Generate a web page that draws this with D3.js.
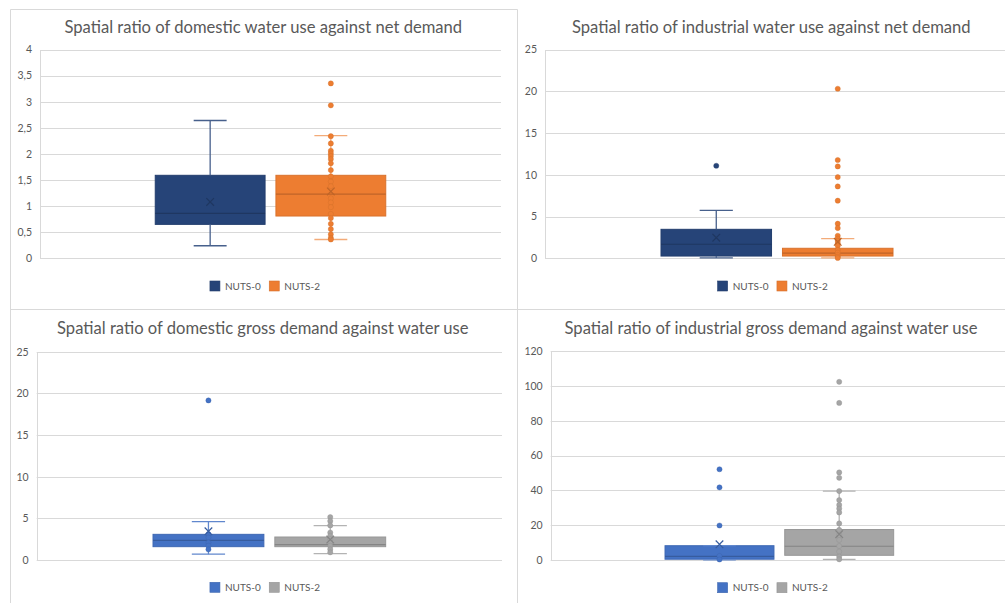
<!DOCTYPE html>
<html>
<head>
<meta charset="utf-8">
<script src="https://cdn.jsdelivr.net/npm/d3@7"></script>
<style>
  html, body { margin: 0; padding: 0; background: #fff; overflow: hidden; }
  text { font-family: Lato, "Open Sans", sans-serif; }
</style>
</head>
<body>
<svg id="chart" width="1005" height="603"></svg>
<script>
// ---- data ----------------------------------------------------------------
const seriesNames = ["NUTS-0", "NUTS-2"];

const chartTitles = [
  "Spatial ratio of domestic water use against net demand",
  "Spatial ratio of industrial water use against net demand",
  "Spatial ratio of domestic gross demand against water use",
  "Spatial ratio of industrial gross demand against water use"
];

// box statistics: [lower whisker, Q1, median, Q3, upper whisker, mean]
const domNetBox0 = [0.24, 0.65, 0.86, 1.59, 2.64, 1.08];
const domNetBox2 = [0.36, 0.81, 1.23, 1.59, 2.35, 1.28];
const indNetBox0 = [0.05, 0.27, 1.68, 3.47, 5.74, 2.47];
const indNetBox2 = [0.04, 0.27, 0.61, 1.20, 2.35, 1.98];
const domGrossBox0 = [0.70, 1.60, 2.36, 3.08, 4.60, 3.45];
const domGrossBox2 = [0.76, 1.60, 1.85, 2.76, 4.12, 2.45];
const indGrossBox0 = [0.05, 0.45, 2.10, 8.20, 8.20, 9.00];
const indGrossBox2 = [0.40, 2.70, 7.90, 17.50, 39.60, 14.80];

// individual regions drawn as dots (inner points and outliers)
const domNetPts0 = [];
const domNetPts2 = [3.35, 2.93, 2.34, 2.20, 2.06, 2.01, 1.96, 1.90, 1.82, 1.69,
                    1.57, 1.47, 1.38, 1.15, 1.07, 0.98, 0.85, 0.77, 0.66, 0.56,
                    0.46, 0.39, 0.36];
const indNetPts0 = [11.08];
const indNetPts2 = [20.30, 11.77, 11.00, 9.72, 8.60, 6.90, 4.14, 3.62, 2.70, 2.35,
                    2.10, 1.80, 1.50, 1.00, 0.67, 0.40, 0.19, 0.04];
const domGrossPts0 = [19.15, 3.10, 2.70, 2.10, 1.72, 1.28];
const domGrossPts2 = [5.15, 4.68, 4.15, 3.30, 2.90, 2.50, 2.10, 1.70, 1.30, 0.92];
const indGrossPts0 = [52.10, 41.70, 19.80, 2.30, 0.30];
const indGrossPts2 = [102.30, 90.20, 50.30, 47.20, 39.60, 34.40, 31.60, 29.50, 27.30,
                      21.00, 17.30, 14.40, 11.50, 8.00, 4.80, 1.90, 0.40];

// y-axis tick labels
const ticksDomNet = [0, 0.5, 1, 1.5, 2, 2.5, 3, 3.5, 4];
const ticksIndNet = [0, 5, 10, 15, 20, 25];
const ticksDomGross = [0, 5, 10, 15, 20, 25];
const ticksIndGross = [0, 20, 40, 60, 80, 100, 120];

// series colours
const paletteNet = ["#264478", "#ED7D31"];
const paletteGross = ["#4472C4", "#A5A5A5"];

// ---- layout --------------------------------------------------------------
const panels = [
  { title: chartTitles[0], boxes: [domNetBox0, domNetBox2], points: [domNetPts0, domNetPts2],
    ticks: ticksDomNet, colors: paletteNet,
    plot: { x0: 40, x1: 501, y0: 49.5, y1: 258.3 },
    titlePos: { x: 263.3, y: 33.3, w: 398 }, legendPos: { x: 265, y: 286 } },
  { title: chartTitles[1], boxes: [indNetBox0, indNetBox2], points: [indNetPts0, indNetPts2],
    ticks: ticksIndNet, colors: paletteNet,
    plot: { x0: 545, x1: 1009, y0: 49.5, y1: 258.3 },
    titlePos: { x: 771.3, y: 32.5, w: 399 }, legendPos: { x: 772.7, y: 286 } },
  { title: chartTitles[2], boxes: [domGrossBox0, domGrossBox2], points: [domGrossPts0, domGrossPts2],
    ticks: ticksDomGross, colors: paletteGross,
    plot: { x0: 36.7, x1: 502, y0: 351.7, y1: 560 },
    titlePos: { x: 262.8, y: 334, w: 412 }, legendPos: { x: 265, y: 587.3 } },
  { title: chartTitles[3], boxes: [indGrossBox0, indGrossBox2], points: [indGrossPts0, indGrossPts2],
    ticks: ticksIndGross, colors: paletteGross,
    plot: { x0: 550.7, x1: 1008, y0: 351, y1: 560 },
    titlePos: { x: 771, y: 334, w: 413 }, legendPos: { x: 772.7, y: 587.7 } }
];

const svg = d3.select("#chart");
const textColor = "#595959";
const gridColor = "#D9D9D9";
const borderColor = "#D9D9D9";

const locale = d3.formatLocale({ decimal: ",", thousands: ".", grouping: [3], currency: ["", "€"] });
const fmt = locale.format("~g");

// chart-area frames
const frames = svg.append("g").attr("fill", "none").attr("stroke", borderColor).attr("stroke-width", 1);
frames.append("path").attr("d", "M10.5,610 V9.5 H517.5 V610");
frames.append("path").attr("d", "M10.5,309.5 H1010");

function fitText(sel, target) {
  sel.attr("font-size", 16);
  const len = sel.node().getComputedTextLength();
  sel.attr("font-size", 16 * target / len);
}

panels.forEach(p => {
  const g = svg.append("g");
  const { x0, x1, y0, y1 } = p.plot;
  const yMax = p.ticks[p.ticks.length - 1];
  const y = d3.scaleLinear().domain([0, yMax]).range([y1, y0]);

  const x = d3.scaleBand().domain(["all"]).range([x0, x1]).paddingOuter(0.5).paddingInner(0);
  const xs = d3.scaleBand().domain(seriesNames).range([0, x.bandwidth()]).paddingInner(0.09);
  const bw = xs.bandwidth();

  // title
  const t = g.append("text")
    .attr("x", p.titlePos.x).attr("y", p.titlePos.y)
    .attr("text-anchor", "middle").attr("fill", textColor)
    .text(p.title);
  fitText(t, p.titlePos.w);

  // gridlines
  g.append("g").selectAll("line").data(p.ticks).join("line")
    .attr("x1", x0).attr("x2", x1)
    .attr("y1", d => Math.round(y(d)) + 0.5).attr("y2", d => Math.round(y(d)) + 0.5)
    .attr("stroke", gridColor).attr("stroke-width", 1);
  g.append("line")
    .attr("x1", Math.round(x0) + 0.5).attr("x2", Math.round(x0) + 0.5)
    .attr("y1", Math.round(y0) + 0.5).attr("y2", Math.round(y1) + 0.5)
    .attr("stroke", gridColor);

  // y axis labels
  const ax = g.append("g").attr("transform", `translate(${x0},0)`)
    .call(d3.axisLeft(y).tickValues(p.ticks).tickSize(0).tickPadding(8).tickFormat(fmt));
  ax.select(".domain").remove();
  ax.selectAll("text").attr("fill", textColor).attr("font-size", 10.5)
    .style("font-family", "Lato, 'Open Sans', sans-serif");

  // box-and-whisker series
  seriesNames.forEach((name, i) => {
    const [lo, q1, med, q3, hi, mean] = p.boxes[i];
    const col = p.colors[i];
    const left = x("all") + xs(name);
    const cx = left + bw / 2;
    const capW = bw * 0.3;
    const s = g.append("g");
    const dark = d3.color(col).darker(0.6).formatHex();
    const whisk = d3.interpolateRgb(col, "#ffffff")(i === 1 && p.colors === paletteNet ? 0.35 : 0.15);

    s.append("rect")
      .attr("x", left).attr("y", y(q3))
      .attr("width", bw).attr("height", y(q1) - y(q3))
      .attr("fill", col)
      .attr("stroke", d3.color(col).darker(0.25).formatHex()).attr("stroke-width", 1);
    s.append("line")
      .attr("x1", left).attr("x2", left + bw)
      .attr("y1", y(med)).attr("y2", y(med))
      .attr("stroke", dark).attr("stroke-width", 1.2);

    const wg = s.append("g").attr("stroke", whisk).attr("stroke-width", 1.3);
    wg.append("line").attr("x1", cx).attr("x2", cx).attr("y1", y(q3)).attr("y2", y(hi));
    wg.append("line").attr("x1", cx).attr("x2", cx).attr("y1", y(q1)).attr("y2", y(lo));
    wg.append("line").attr("x1", cx - capW / 2).attr("x2", cx + capW / 2).attr("y1", y(hi)).attr("y2", y(hi));
    wg.append("line").attr("x1", cx - capW / 2).attr("x2", cx + capW / 2).attr("y1", y(lo)).attr("y2", y(lo));

    s.append("g").selectAll("circle").data(p.points[i]).join("circle")
      .attr("cx", cx).attr("cy", d => y(d)).attr("r", 2.6)
      .attr("fill", col)
      .attr("stroke", d3.color(col).darker(0.4).formatHex())
      .attr("stroke-opacity", 0.45).attr("stroke-width", 0.8);

    const m = 3.8, my = y(mean);
    s.append("path")
      .attr("d", `M${cx - m},${my - m}L${cx + m},${my + m}M${cx - m},${my + m}L${cx + m},${my - m}`)
      .attr("stroke", dark).attr("stroke-width", 1.2).attr("fill", "none");
  });

  // legend
  const lg = g.append("g");
  let cursor = 0;
  seriesNames.forEach((name, i) => {
    lg.append("rect")
      .attr("x", cursor).attr("y", -5).attr("width", 10).attr("height", 10)
      .attr("fill", p.colors[i])
      .attr("stroke", d3.color(p.colors[i]).darker(0.3).formatHex()).attr("stroke-width", 0.6);
    const lt = lg.append("text")
      .attr("x", cursor + 15).attr("y", 0).attr("dy", "0.35em")
      .attr("font-size", 10).attr("fill", textColor).text(name);
    cursor += 15 + lt.node().getComputedTextLength() + 8.5;
  });
  const total = cursor - 8.5;
  lg.attr("transform", `translate(${p.legendPos.x - total / 2},${p.legendPos.y})`);
});
</script>
</body>
</html>
